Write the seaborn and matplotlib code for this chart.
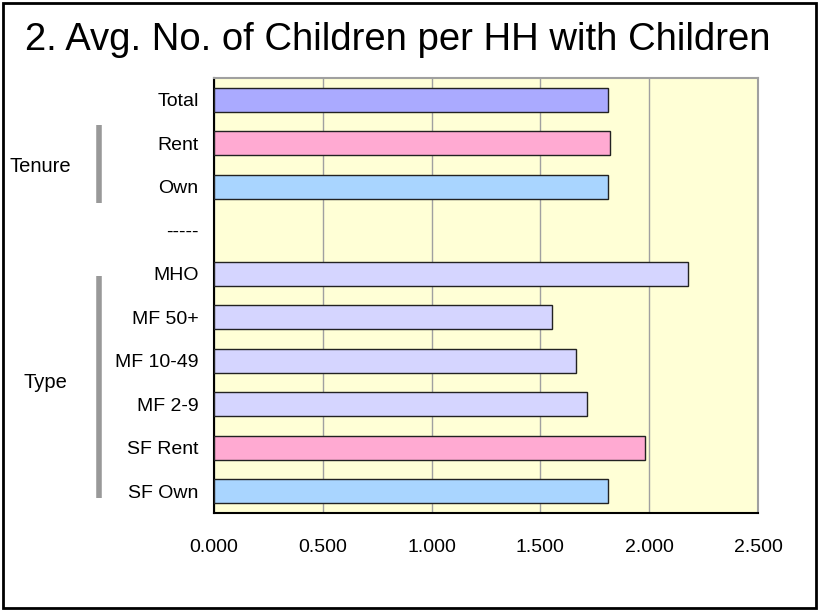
import matplotlib
matplotlib.use("Agg")
import matplotlib.pyplot as plt
import matplotlib.patches as mpatches
import seaborn as sns
import pandas as pd

categories = ["Total", "Rent", "Own", "-----", "MHO", "MF 50+", "MF 10-49",
              "MF 2-9", "SF Rent", "SF Own"]
values = [1.810, 1.820, 1.810, None, 2.177, 1.553, 1.664, 1.716, 1.979, 1.810]
bar_colors = ["#AAAAFF", "#FFAAD2", "#A9D5FF", "#FFFFFF", "#D5D5FF", "#D5D5FF",
              "#D5D5FF", "#D5D5FF", "#FFAAD2", "#A9D5FF"]
x_ticks = [0.0, 0.5, 1.0, 1.5, 2.0, 2.5]
title = "2. Avg. No. of Children per HH with Children"

rows = [(c, v) for c, v in zip(categories, values) if v is not None]
df = pd.DataFrame(rows, columns=["category", "value"])
palette = dict(zip(categories, bar_colors))

sns.set_style("white")
plt.rcParams["font.family"] = ["Liberation Sans", "DejaVu Sans"]
plt.rcParams["text.color"] = "black"
plt.rcParams["xtick.color"] = "black"
plt.rcParams["ytick.color"] = "black"

W, H = 818, 610
fig = plt.figure(figsize=(W / 100, H / 100), dpi=100)
ax = fig.add_axes([214 / W, 1 - 513 / H, (758 - 214) / W, (513 - 78) / H])
ax.set_facecolor("#FFFFD6")

sns.barplot(data=df, x="value", y="category", hue="category", order=categories,
            palette=palette, saturation=1, legend=False, width=0.55, orient="h",
            edgecolor="#222222", linewidth=1.0, ax=ax, zorder=3)

ax.set_xlim(0, 2.5)
ax.set_ylim(len(categories) - 0.5, -0.5)
ax.set_xticks(x_ticks)
ax.set_xticklabels([f"{t:.3f}" for t in x_ticks], fontsize=14)
ax.set_xlabel("")
ax.set_ylabel("")
ax.set_yticks(range(len(categories)))
ax.set_yticklabels(categories, fontsize=14)
ax.set_yticks([i - 0.5 for i in range(len(categories) + 1)], minor=True)
ax.tick_params(axis="y", which="major", length=0, pad=11)
ax.tick_params(axis="y", which="minor", length=8, width=1.2, color="black", direction="out")
ax.tick_params(axis="x", which="major", length=7, width=1.2, color="black",
               direction="out", pad=12)

ax.grid(axis="x", color="#A0A0A0", linewidth=1.0, zorder=1)
ax.grid(axis="y", visible=False)
for side in ("left", "bottom"):
    ax.spines[side].set_color("black")
    ax.spines[side].set_linewidth(1.5)
for side in ("top", "right"):
    ax.spines[side].set_color("#A0A0A0")
    ax.spines[side].set_linewidth(1.5)

# group brackets and labels to the left of the category labels
trans = ax.get_yaxis_transform()
bx = (99 - 214) / (758 - 214)
ax.plot([bx, bx], [0.58, 2.38], transform=trans, color="#999999", lw=4,
        clip_on=False, solid_capstyle="butt")
ax.plot([bx, bx], [4.05, 9.16], transform=trans, color="#999999", lw=4,
        clip_on=False, solid_capstyle="butt")
fig.text(9 / W, 1 - 167 / H, "Tenure", fontsize=14.5, ha="left", va="center")
fig.text(23 / W, 1 - 382 / H, "Type", fontsize=14.5, ha="left", va="center")

fig.text(25 / W, 1 - 40 / H, title, fontsize=27.5, ha="left", va="center")

fig.patches.append(mpatches.Rectangle((3 / W, 2 / H), (W - 5) / W, (H - 5) / H,
                                      transform=fig.transFigure, fill=False,
                                      edgecolor="black", linewidth=2))

fig.savefig("out.png", dpi=100)
